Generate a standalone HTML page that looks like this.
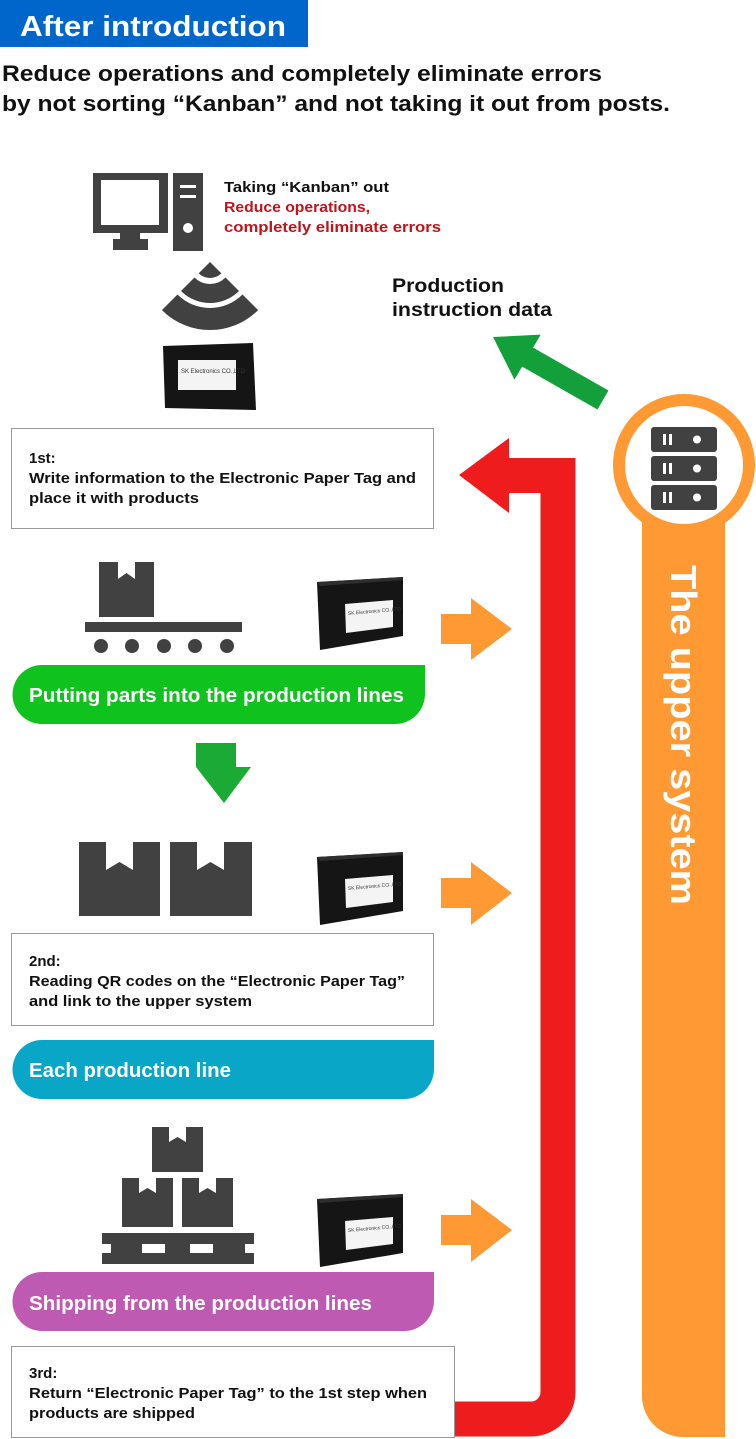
<!DOCTYPE html>
<html><head><meta charset="utf-8"><style>
html,body{margin:0;padding:0;background:#fff;}
svg{display:block;font-family:"Liberation Sans",sans-serif;font-weight:bold;}
</style></head><body>
<svg width="756" height="1439" viewBox="0 0 756 1439" xmlns="http://www.w3.org/2000/svg">
<defs>
<clipPath id="fan"><polygon points="210,262 140,332 280,332"/></clipPath>
<g id="tag">
<polygon points="1,5 87,0 87,59 4,73" fill="#151515"/>
<polygon points="1,5 87,0 87,3 4,9" fill="#2e2e2e"/>
<polygon points="29,27 77,23 77,50 30,56" fill="#f4f4f4"/>
<text x="32" y="38" font-size="5" fill="#333" font-weight="normal" transform="rotate(-5 32 38)">SK Electronics CO.,LTD</text>
</g>
</defs>

<!-- Header -->
<rect x="0" y="0" width="308" height="47" fill="#0066cc"/>
<text x="20" y="36" font-size="29" fill="#fff" textLength="266" lengthAdjust="spacingAndGlyphs">After introduction</text>
<text x="2" y="81" font-size="22" fill="#111" textLength="600" lengthAdjust="spacingAndGlyphs">Reduce operations and completely eliminate errors</text>
<text x="2" y="111" font-size="22" fill="#111" textLength="668" lengthAdjust="spacingAndGlyphs">by not sorting “Kanban” and not taking it out from posts.</text>

<!-- Computer -->
<rect x="93" y="173" width="75" height="60" fill="#414141"/>
<rect x="101" y="180" width="58" height="45" fill="#fff"/>
<rect x="120" y="233" width="20" height="6" fill="#414141"/>
<rect x="113" y="239" width="35" height="11" fill="#414141"/>
<rect x="173" y="173" width="30" height="78" fill="#414141"/>
<rect x="180" y="185" width="16" height="3" fill="#fff"/>
<rect x="180" y="195" width="16" height="3" fill="#fff"/>
<circle cx="188" cy="228" r="5" fill="#fff"/>
<text x="224" y="192" font-size="15" fill="#111" textLength="165" lengthAdjust="spacingAndGlyphs">Taking “Kanban” out</text>
<text x="224" y="212" font-size="15" fill="#c0141c" textLength="146" lengthAdjust="spacingAndGlyphs">Reduce operations,</text>
<text x="224" y="232" font-size="15" fill="#c0141c" textLength="217" lengthAdjust="spacingAndGlyphs">completely eliminate errors</text>

<!-- wifi fan -->
<g clip-path="url(#fan)">
<circle cx="210" cy="262" r="16" fill="#414141"/>
<circle cx="210" cy="262" r="31.5" fill="none" stroke="#414141" stroke-width="19"/>
<circle cx="210" cy="262" r="57" fill="none" stroke="#414141" stroke-width="22"/>
</g>
<!-- top tag -->
<polygon points="163,346 253,343 256,410 165,408" fill="#151515"/>
<rect x="178" y="360" width="58" height="30" fill="#f4f4f4"/>
<text x="181" y="373" font-size="6" fill="#333" font-weight="normal">SK Electronics CO.,LTD</text>

<text x="392" y="292" font-size="19" fill="#111" textLength="112" lengthAdjust="spacingAndGlyphs">Production</text>
<text x="392" y="316" font-size="19" fill="#111" textLength="160" lengthAdjust="spacingAndGlyphs">instruction data</text>

<!-- Green diagonal arrow -->
<polygon points="493,337 540.7,334.6 533.1,347.6 608.5,390.5 597.5,409.5 522.1,366.6 514.5,379.6" fill="#13a03a"/>

<!-- Orange system -->
<path d="M642 520 V1395 A41 41 0 0 0 683 1437 H725 V520 Z" fill="#ff9933"/>
<circle cx="684" cy="465" r="65" fill="#fff" stroke="#ff9933" stroke-width="12"/>
<g fill="#414141">
<rect x="651" y="427" width="66" height="25" rx="3"/>
<rect x="651" y="456" width="66" height="25" rx="3"/>
<rect x="651" y="485" width="66" height="25" rx="3"/>
</g>
<g fill="#fff">
<rect x="663" y="434" width="3" height="11"/><rect x="669" y="434" width="3" height="11"/><circle cx="697" cy="439.5" r="4"/>
<rect x="663" y="463" width="3" height="11"/><rect x="669" y="463" width="3" height="11"/><circle cx="697" cy="468.5" r="4"/>
<rect x="663" y="492" width="3" height="11"/><rect x="669" y="492" width="3" height="11"/><circle cx="697" cy="497.5" r="4"/>
</g>
<text transform="translate(671,565) rotate(90)" x="0" y="0" font-size="36" fill="#fff" textLength="340" lengthAdjust="spacingAndGlyphs">The upper system</text>

<!-- Red return path -->
<path d="M505 475.5 H558 V1392 A27 27 0 0 1 531 1419 H455" fill="none" stroke="#ee1c1c" stroke-width="35" stroke-linejoin="miter"/>
<polygon points="459,475 509,438 509,513" fill="#ee1c1c"/>

<!-- Box 1 -->
<rect x="11.5" y="428.5" width="422" height="100" fill="#fff" stroke="#999" stroke-width="1"/>
<text x="29" y="463" font-size="15" fill="#111">1st:</text>
<text x="29" y="483" font-size="15" fill="#111" textLength="387" lengthAdjust="spacingAndGlyphs">Write information to the Electronic Paper Tag and</text>
<text x="29" y="503" font-size="15" fill="#111" textLength="170" lengthAdjust="spacingAndGlyphs">place it with products</text>

<!-- Conveyor -->
<rect x="99" y="562" width="55" height="55" fill="#414141"/>
<polygon points="118,562 135,562 135,579 126.5,573 118,579" fill="#fff"/>
<rect x="85" y="622" width="157" height="10" fill="#414141"/>
<g fill="#414141"><circle cx="101" cy="646" r="7"/><circle cx="132" cy="646" r="7"/><circle cx="164" cy="646" r="7"/><circle cx="195" cy="646" r="7"/><circle cx="227" cy="646" r="7"/></g>
<use href="#tag" x="316" y="577"/>
<polygon points="441,614 471,614 471,598 512,629 471,660 471,644 441,644" fill="#ff9933"/>

<!-- Green pill -->
<path d="M42 665 H425 V694 A30 30 0 0 1 395 724 H42 A29.5 29.5 0 0 1 42 665 Z" fill="#10c21e"/>
<text x="29" y="702" font-size="20" fill="#fff" textLength="375" lengthAdjust="spacingAndGlyphs">Putting parts into the production lines</text>

<!-- down arrow -->
<polygon points="196,743 236,743 236,767 251,767 224,803 196,767" fill="#1aaa35"/>

<!-- boxes row 2 -->
<g fill="#414141">
<rect x="79" y="842" width="81" height="74"/><rect x="170" y="842" width="82" height="74"/>
</g>
<polygon points="106,842 133,842 133,870 119.5,862 106,870" fill="#fff"/>
<polygon points="197,842 224,842 224,870 210.5,862 197,870" fill="#fff"/>
<use href="#tag" x="316" y="852"/>
<polygon points="441,878 471,878 471,862 512,893 471,925 471,908 441,908" fill="#ff9933"/>

<!-- Box 2 -->
<rect x="11.5" y="933.5" width="422" height="92" fill="#fff" stroke="#999" stroke-width="1"/>
<text x="29" y="966" font-size="15" fill="#111">2nd:</text>
<text x="29" y="986" font-size="15" fill="#111" textLength="376" lengthAdjust="spacingAndGlyphs">Reading QR codes on the “Electronic Paper Tag”</text>
<text x="29" y="1006" font-size="15" fill="#111" textLength="223" lengthAdjust="spacingAndGlyphs">and link to the upper system</text>

<!-- Blue pill -->
<path d="M42 1040 H434 V1069 A30 30 0 0 1 404 1099 H42 A29.5 29.5 0 0 1 42 1040 Z" fill="#0aa6c8"/>
<text x="29" y="1077" font-size="20" fill="#fff" textLength="202" lengthAdjust="spacingAndGlyphs">Each production line</text>

<!-- pallet -->
<rect x="152" y="1127" width="51" height="45" fill="#414141"/>
<polygon points="169,1127 186,1127 186,1142 177.5,1137 169,1142" fill="#fff"/>
<rect x="122" y="1178" width="51" height="49" fill="#414141"/>
<polygon points="139,1178 156,1178 156,1193 147.5,1188 139,1193" fill="#fff"/>
<rect x="182" y="1178" width="51" height="49" fill="#414141"/>
<polygon points="199,1178 216,1178 216,1193 207.5,1188 199,1193" fill="#fff"/>
<rect x="102" y="1233" width="152" height="31" fill="#414141"/>
<rect x="142" y="1244" width="23" height="9" fill="#fff"/>
<rect x="190" y="1244" width="23" height="9" fill="#fff"/>
<rect x="102" y="1244" width="9" height="9" fill="#fff"/>
<rect x="245" y="1244" width="9" height="9" fill="#fff"/>
<use href="#tag" x="316" y="1194"/>
<polygon points="441,1215 471,1215 471,1199 512,1230 471,1262 471,1245 441,1245" fill="#ff9933"/>

<!-- Purple pill -->
<path d="M42 1272 H434 V1301 A30 30 0 0 1 404 1331 H42 A29.5 29.5 0 0 1 42 1272 Z" fill="#bf5ab3"/>
<text x="29" y="1310" font-size="20" fill="#fff" textLength="343" lengthAdjust="spacingAndGlyphs">Shipping from the production lines</text>

<!-- Box 3 -->
<rect x="11.5" y="1346.5" width="443" height="91" fill="#fff" stroke="#999" stroke-width="1"/>
<text x="29" y="1378" font-size="15" fill="#111">3rd:</text>
<text x="29" y="1398" font-size="15" fill="#111" textLength="398" lengthAdjust="spacingAndGlyphs">Return “Electronic Paper Tag” to the 1st step when</text>
<text x="29" y="1418" font-size="15" fill="#111" textLength="166" lengthAdjust="spacingAndGlyphs">products are shipped</text>
</svg>
</body></html>
